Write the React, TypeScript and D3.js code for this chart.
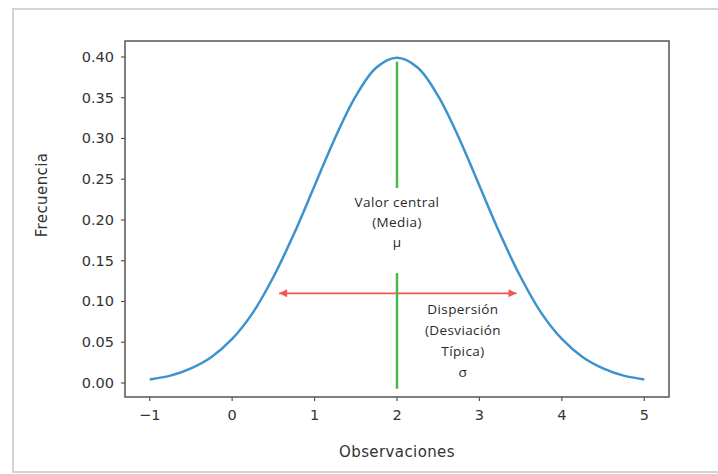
import React from "react";
import * as d3 from "d3";

const xs = [-1, -0.75, -0.5, -0.25, 0, 0.25, 0.5, 0.75, 1, 1.25, 1.5, 1.75, 2, 2.25, 2.5, 2.75, 3, 3.25, 3.5, 3.75, 4, 4.25, 4.5, 4.75, 5];
const freq = [0.0044, 0.009, 0.018, 0.032, 0.054, 0.086, 0.130, 0.183, 0.242, 0.301, 0.352, 0.387, 0.399, 0.387, 0.352, 0.301, 0.242, 0.183, 0.130, 0.086, 0.054, 0.032, 0.018, 0.009, 0.0044];
const xTicks = [-1, 0, 1, 2, 3, 4, 5];
const yTicks = [0, 0.05, 0.1, 0.15, 0.2, 0.25, 0.3, 0.35, 0.4];
const meanX = 2;
const meanLine = [-0.007, 0.394];
const arrowX = [0.57, 3.45];
const arrowY = 0.11;
const sdTextX = 2.8;
const meanText = ["Valor central", "(Media)", "μ"];
const sdText = ["Dispersión", "(Desviación", "Típica)", "σ"];

export default function App() {
  const W = 718, H = 474;
  const left = 125, right = 669, top = 41, bottom = 397;
  const x = d3.scaleLinear().domain([-1.3, 5.3]).range([left, right]);
  const y = d3.scaleLinear().domain([-0.0172, 0.4196]).range([bottom, top]);
  const line = d3.line<number>().x((_, i) => x(xs[i])).y((d) => y(d)).curve(d3.curveCatmullRom);
  const tickFont = "DejaVu Sans, sans-serif";
  const annFont = "Open Sans, sans-serif";
  const ax1 = x(arrowX[0]), ax2 = x(arrowX[1]), ay = y(arrowY);
  const hl = 8, hw = 4;
  return (
    <svg width={W} height={H} style={{ position: "absolute", left: 0, top: 0, background: "#fff" }}>
      <rect x={13} y={9} width={W} height={463} fill="#fff" stroke="#d4d4d4" strokeWidth={2} />
      <rect x={left} y={top} width={right - left} height={bottom - top} fill="none" stroke="#555" strokeWidth={1.5} />
      {xTicks.map((t) => (
        <g key={"x" + t}>
          <line x1={x(t)} x2={x(t)} y1={bottom} y2={bottom + 4} stroke="#555" strokeWidth={1.2} />
          <text x={x(t)} y={420} textAnchor="middle" fontFamily={tickFont} fontSize={14.5} fill="#333">
            {t < 0 ? "−" + Math.abs(t) : t}
          </text>
        </g>
      ))}
      {yTicks.map((t) => (
        <g key={"y" + t}>
          <line x1={left - 4} x2={left} y1={y(t)} y2={y(t)} stroke="#555" strokeWidth={1.2} />
          <text x={left - 11} y={y(t) + 5} textAnchor="end" fontFamily={tickFont} fontSize={14.5} fill="#333">
            {t.toFixed(2)}
          </text>
        </g>
      ))}
      <text x={397} y={457} textAnchor="middle" fontFamily={tickFont} fontSize={15} letterSpacing={0.4} fill="#333">Observaciones</text>
      <text transform={`translate(47,195) rotate(-90)`} textAnchor="middle" fontFamily={tickFont} fontSize={15} letterSpacing={0.4} fill="#333">Frecuencia</text>
      <path d={line(freq) || ""} fill="none" stroke="#3d93d0" strokeWidth={2.5} />
      <line x1={ax1} x2={ax2} y1={ay} y2={ay} stroke="#f25757" strokeWidth={1.8} />
      <path d={`M${ax1},${ay} l${hl},${-hw} l0,${2 * hw} Z`} fill="#f25757" />
      <path d={`M${ax2},${ay} l${-hl},${-hw} l0,${2 * hw} Z`} fill="#f25757" />
      <line x1={x(meanX)} x2={x(meanX)} y1={y(meanLine[0])} y2={y(meanLine[1])} stroke="#4db847" strokeWidth={2.5} />
      <rect x={x(meanX) - 50} y={188} width={100} height={85} fill="#fff" />
      {meanText.map((s, i) => (
        <text key={s} x={x(meanX)} y={207 + i * 20} textAnchor="middle" fontFamily={annFont} fontSize={13.5} letterSpacing={0.4} fill="#2a2a2a">{s}</text>
      ))}
      {sdText.map((s, i) => (
        <text key={s} x={x(sdTextX)} y={314 + i * 21} textAnchor="middle" fontFamily={annFont} fontSize={13.5} letterSpacing={0.4} fill="#2a2a2a">{s}</text>
      ))}
    </svg>
  );
}
